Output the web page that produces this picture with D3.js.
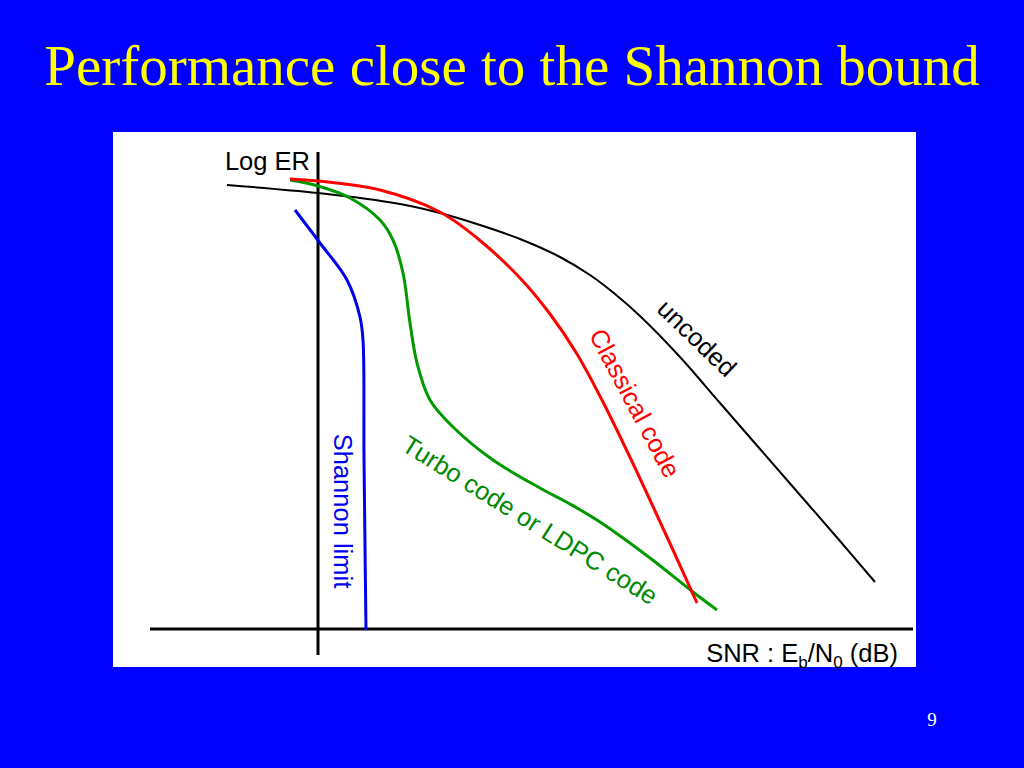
<!DOCTYPE html>
<html><head><meta charset="utf-8">
<script src="https://cdn.jsdelivr.net/npm/d3@7"></script>
<style>html,body{margin:0;padding:0;background:#0000ff;}svg{display:block;}</style>
</head><body>
<svg id="c" width="1024" height="768"></svg>
<script>
// Data (x = SNR units right of the y axis, y = log error rate units above the x axis)
const uncodedX = [-1.82, 0, 1.64, 2.44, 3.24, 4.04, 4.84, 5.44, 5.94, 6.44, 7.24, 8.04, 8.84, 9.64, 10.44, 11.14];
const uncodedY = [8.88, 8.72, 8.5, 8.32, 8.08, 7.8, 7.44, 7.08, 6.7, 6.26, 5.44, 4.52, 3.6, 2.68, 1.76, 0.94];
const classicalX = [-0.56, 0, 1.24, 2.44, 3.18, 4.04, 4.64, 5.18, 5.7, 6.18, 6.64, 7.1, 7.58];
const classicalY = [9.0, 8.96, 8.78, 8.34, 7.82, 7.02, 6.3, 5.5, 4.54, 3.56, 2.58, 1.58, 0.52];
const turboX = [-0.56, 0, 0.64, 1.24, 1.5, 1.7, 1.84, 1.98, 2.24, 2.7, 3.5, 4.44, 5.04, 5.64, 6.64, 7.5, 7.98];
const turboY = [8.98, 8.86, 8.62, 8.18, 7.78, 7.12, 6.12, 5.32, 4.58, 4.04, 3.38, 2.82, 2.5, 2.14, 1.42, 0.74, 0.38];
const shannonX = [-0.46, 0.04, 0.58, 0.84, 0.9, 0.92, 0.96];
const shannonY = [8.38, 7.72, 6.98, 6.24, 5.78, 3.44, -0.02];
const xAxisExtent = [-3.36, 11.9];
const yAxisExtent = [-0.52, 9.54];
const titleText = "Performance close to the Shannon bound";
const yLabel = "Log ER";
const pageNumber = "9";

const svg = d3.select("#c");
const x = d3.scaleLinear().domain([0, 10]).range([318, 818]);
const y = d3.scaleLinear().domain([0, 10]).range([629, 129]);

svg.append("rect").attr("width", 1024).attr("height", 768).attr("fill", "#0000ff");
svg.append("text").attr("x", 512).attr("y", 85).attr("text-anchor", "middle")
  .attr("font-family", "'Liberation Serif','Times New Roman',serif").attr("font-size", 57)
  .attr("fill", "#ffff00").text(titleText);
svg.append("rect").attr("x", 113).attr("y", 132).attr("width", 803).attr("height", 535).attr("fill", "#ffffff");

// axes
svg.append("line").attr("x1", x(0)).attr("x2", x(0)).attr("y1", y(yAxisExtent[1])).attr("y2", y(yAxisExtent[0]))
  .attr("stroke", "#000").attr("stroke-width", 3);
svg.append("line").attr("x1", x(xAxisExtent[0])).attr("x2", x(xAxisExtent[1])).attr("y1", y(0)).attr("y2", y(0))
  .attr("stroke", "#000").attr("stroke-width", 3);

const line = d3.line().x(d => x(d[0])).y(d => y(d[1])).curve(d3.curveCatmullRom.alpha(0.5));
const series = [
  {xs: uncodedX, ys: uncodedY, color: "#000000", w: 2},
  {xs: shannonX, ys: shannonY, color: "#0000ee", w: 3},
  {xs: turboX, ys: turboY, color: "#009900", w: 3},
  {xs: classicalX, ys: classicalY, color: "#ff0000", w: 3}
];
series.forEach(s => {
  svg.append("path").datum(s.xs.map((v, i) => [v, s.ys[i]])).attr("d", line)
    .attr("fill", "none").attr("stroke", s.color).attr("stroke-width", s.w).attr("stroke-linecap", "butt");
});

const sans = "'Liberation Sans',Arial,sans-serif";
const fs = 25.5;
function label(txt, cx, cy, ang, color) {
  svg.append("text").attr("transform", `translate(${cx},${cy}) rotate(${ang})`)
    .attr("text-anchor", "middle").attr("dominant-baseline", "central")
    .attr("font-family", sans).attr("font-size", fs).attr("fill", color).text(txt);
}
label("uncoded", 697, 338, 44, "#000000");
label("Classical code", 635, 403, 62, "#ff0000");
label("Turbo code or LDPC code", 530, 520, 32, "#008800");
label("Shannon limit", 343, 511, 90, "#0000ee");

svg.append("text").attr("x", 310).attr("y", 170).attr("text-anchor", "end")
  .attr("font-family", sans).attr("font-size", fs).attr("fill", "#000").text(yLabel);

const snr = svg.append("text").attr("x", 898).attr("y", 662).attr("text-anchor", "end")
  .attr("font-family", sans).attr("font-size", fs).attr("fill", "#000");
snr.append("tspan").text("SNR : E");
snr.append("tspan").attr("font-size", 17).attr("dy", 6).text("b");
snr.append("tspan").attr("dy", -6).text("/N");
snr.append("tspan").attr("font-size", 17).attr("dy", 6).text("0");
snr.append("tspan").attr("dy", -6).text(" (dB)");

svg.append("text").attr("x", 932).attr("y", 726).attr("text-anchor", "middle")
  .attr("font-family", "'Liberation Serif','Times New Roman',serif").attr("font-size", 19)
  .attr("fill", "#ffffff").text(pageNumber);
</script>
</body></html>
